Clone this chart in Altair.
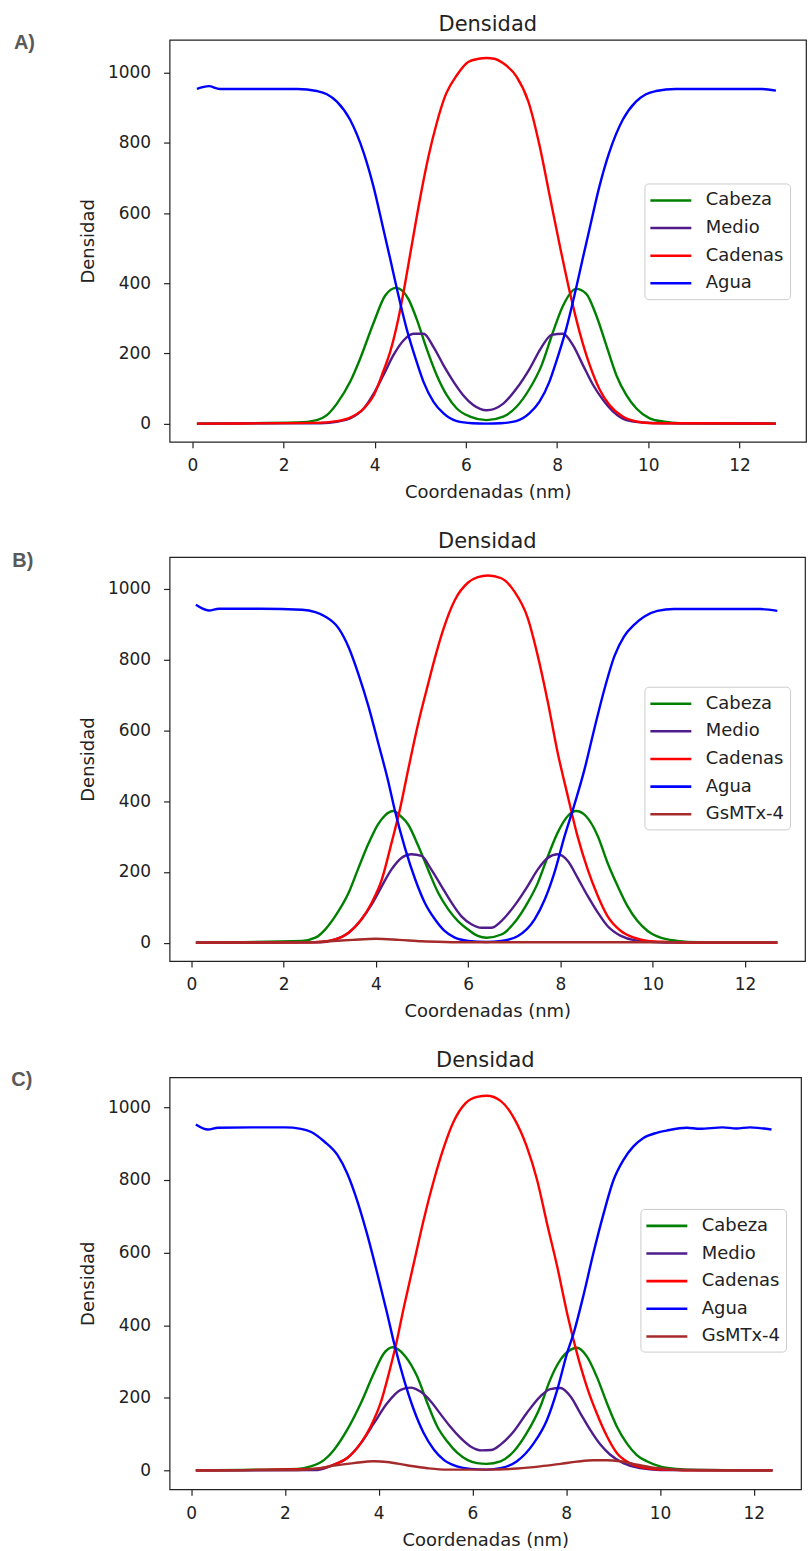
import altair as alt
import pandas as pd

SERIES = ["Cabeza", "Medio", "Cadenas", "Agua", "GsMTx-4"]
COLORS = ["#008000", "#4f1c8c", "#ff0000", "#0000ff", "#a52a2a"]
X_TICKS = [0, 2, 4, 6, 8, 10, 12]
Y_TICKS = [0, 200, 400, 600, 800, 1000]

# ---------------- Panel A ----------------
A_CABEZA_X = [0.1, 2.3, 2.73, 2.95, 3.17, 3.46, 3.68, 3.98, 4.23, 4.47, 4.74, 4.92, 5.14, 5.36, 5.58, 5.8, 6.09, 6.45, 6.82, 7.11,
              7.4, 7.66, 7.91, 8.13, 8.42, 8.64, 8.86, 9.08, 9.3, 9.52, 9.74, 10.03, 10.32, 10.7, 12.8]
A_CABEZA_Y = [0, 3, 10, 24, 57, 119, 185, 289, 365, 387, 355, 298, 213, 138, 81, 43, 20, 10, 20, 48,
              100, 166, 261, 336, 384, 370, 308, 223, 138, 81, 43, 15, 6, 1, 0]
A_MEDIO_X = [0.1, 2.8, 3.2, 3.46, 3.76, 3.98, 4.19, 4.41, 4.63, 4.85, 5.07, 5.29, 5.51, 5.73, 5.94, 6.16,
             6.45, 6.82, 7.11, 7.4, 7.66, 7.88, 8.13, 8.35, 8.57, 8.79, 9.01, 9.23, 9.52, 9.88, 10.3, 12.8]
A_MEDIO_Y = [0, 1, 6, 15, 43, 86, 138, 195, 237, 256, 256, 218, 166, 119, 81, 53,
             38, 57, 100, 157, 218, 253, 256, 223, 166, 110, 67, 34, 10, 3, 1, 0]
A_CADENAS_X = [0.1, 2.7, 3.17, 3.46, 3.76, 3.98, 4.19, 4.34, 4.52, 4.63, 4.81, 4.99, 5.18, 5.36, 5.54, 5.8, 6.05, 6.28, 6.45, 6.62,
               6.82, 7.11, 7.37, 7.62, 7.84, 8.06, 8.28, 8.5, 8.72, 8.93, 9.15, 9.44, 9.74, 10.1, 12.8]
A_CADENAS_Y = [0, 2, 7, 17, 43, 81, 150, 205, 300, 374, 507, 639, 762, 857, 932, 993, 1031, 1040, 1042, 1040,
               1027, 989, 918, 790, 648, 507, 374, 258, 165, 98, 53, 20, 6, 1, 0]
A_AGUA_X = [0.1, 0.36, 0.6, 1.5, 2.3, 2.73, 2.95, 3.17, 3.46, 3.76, 3.97, 4.19, 4.34, 4.52, 4.7, 4.92, 5.07, 5.29, 5.51, 5.8,
            6.14, 6.45, 6.76, 7.1, 7.39, 7.61, 7.83, 7.98, 8.2, 8.38, 8.56, 8.71, 8.93, 9.14, 9.44, 9.73, 9.95, 10.17, 10.6, 12.5, 12.8]
A_AGUA_Y = [954, 962, 954, 954, 954, 948, 939, 918, 866, 771, 677, 554, 469, 365, 270, 176, 119, 62, 29, 7,
            1, 0, 1, 7, 29, 62, 119, 176, 270, 365, 469, 554, 677, 771, 866, 918, 939, 948, 954, 954, 949]

# ---------------- Panel B ----------------
B_CABEZA_X = [0.1, 2.4, 2.69, 2.9, 3.12, 3.41, 3.62, 3.84, 4.05, 4.2, 4.38, 4.55, 4.7, 4.92, 5.13, 5.35, 5.57, 5.78, 6.0, 6.21,
              6.4, 6.72, 7.0, 7.29, 7.51, 7.73, 7.94, 8.16, 8.34, 8.55, 8.81, 9.02, 9.24, 9.45, 9.67, 9.89, 10.17, 10.53, 11.0, 12.7]
B_CABEZA_Y = [0, 5, 14, 37, 75, 141, 210, 280, 335, 360, 372, 356, 334, 273, 207, 141, 94, 61, 37, 19,
              14, 23, 56, 113, 169, 245, 311, 358, 372, 358, 301, 226, 160, 104, 61, 33, 14, 5, 1, 0]
B_MEDIO_X = [0.1, 2.8, 3.12, 3.41, 3.69, 3.91, 4.13, 4.34, 4.56, 4.77, 4.99, 5.2, 5.42, 5.64, 5.85, 6.07, 6.29, 6.5, 6.72, 7.0,
             7.29, 7.51, 7.73, 7.94, 8.16, 8.37, 8.59, 8.81, 9.02, 9.31, 9.6, 10.03, 10.5, 12.7]
B_MEDIO_Y = [0, 1, 9, 28, 66, 108, 160, 207, 240, 250, 245, 207, 160, 113, 75, 52, 42, 42, 61, 104,
             160, 207, 240, 250, 231, 184, 132, 85, 47, 19, 7, 2, 0, 0]
B_CADENAS_X = [0.1, 2.7, 3.12, 3.41, 3.69, 3.91, 4.13, 4.34, 4.52, 4.7, 4.92, 5.13, 5.28, 5.46, 5.71, 6.0, 6.21, 6.43, 6.72, 7.0,
               7.29, 7.51, 7.73, 7.94, 8.16, 8.37, 8.59, 8.81, 9.02, 9.31, 9.6, 9.89, 10.32, 10.8, 12.7]
B_CADENAS_Y = [0, 1, 9, 28, 66, 113, 179, 282, 376, 489, 621, 730, 805, 885, 968, 1018, 1033, 1038, 1030, 993,
               918, 810, 678, 537, 414, 301, 207, 132, 75, 33, 14, 5, 2, 0, 0]
B_AGUA_X = [0.1, 0.38, 0.6, 1.5, 2.4, 2.69, 2.9, 3.19, 3.41, 3.62, 3.84, 4.05, 4.27, 4.41, 4.63, 4.85, 5.06, 5.28, 5.49, 5.71,
            6.0, 6.4, 6.72, 7.08, 7.44, 7.66, 7.87, 8.09, 8.27, 8.52, 8.73, 8.95, 9.17, 9.38, 9.6, 9.82, 10.1, 10.46, 12.33, 12.7]
B_AGUA_Y = [955, 939, 944, 944, 941, 934, 922, 889, 835, 760, 668, 565, 455, 375, 268, 180, 113, 66, 33, 14,
            5, 2, 5, 19, 66, 122, 198, 301, 376, 489, 602, 715, 810, 866, 899, 922, 938, 943, 943, 938]
B_GSMTX_X = [0.1, 2.5, 3.0, 3.5, 4.0, 4.5, 5.0, 5.5, 6.0, 7.0, 12.7]
B_GSMTX_Y = [0, 1, 4, 8, 11, 8, 4, 2, 1, 1, 1]

# ---------------- Panel C ----------------
C_CABEZA_X = [0.1, 2.27, 2.55, 2.84, 3.05, 3.33, 3.62, 3.9, 4.11, 4.3, 4.57, 4.82, 5.04, 5.25, 5.46, 5.68, 5.89, 6.1, 6.3, 6.6,
              6.88, 7.16, 7.45, 7.66, 7.88, 8.09, 8.23, 8.44, 8.65, 8.87, 9.08, 9.29, 9.5, 9.72, 10.0, 10.36, 10.8, 12.4]
C_CABEZA_Y = [0, 4, 11, 29, 57, 112, 185, 268, 322, 339, 314, 259, 185, 121, 80, 48, 29, 20, 18, 25,
              52, 103, 176, 250, 305, 332, 338, 314, 259, 185, 121, 75, 43, 25, 11, 4, 1, 0]
C_MEDIO_X = [0.1, 2.7, 3.05, 3.33, 3.62, 3.9, 4.18, 4.47, 4.68, 4.89, 5.1, 5.32, 5.53, 5.74, 5.96, 6.2, 6.4, 6.6, 6.88, 7.16,
             7.45, 7.66, 7.88, 8.09, 8.3, 8.51, 8.73, 8.94, 9.22, 9.57, 10.0, 12.4]
C_MEDIO_Y = [0, 1, 16, 34, 75, 130, 185, 222, 228, 217, 192, 155, 120, 90, 66, 55, 56, 71, 107, 158,
             204, 224, 227, 204, 158, 112, 71, 43, 20, 6, 1, 0]
C_CADENAS_X = [0.1, 2.62, 3.05, 3.33, 3.62, 3.83, 4.04, 4.22, 4.36, 4.54, 4.75, 4.96, 5.18, 5.36, 5.6, 5.85, 6.1, 6.31, 6.6, 6.88,
               7.16, 7.38, 7.59, 7.81, 8.02, 8.23, 8.44, 8.65, 8.87, 9.08, 9.36, 9.72, 10.14, 10.6, 12.4]
C_CADENAS_Y = [0, 4, 16, 34, 75, 121, 185, 268, 341, 451, 571, 690, 800, 878, 961, 1011, 1029, 1032, 1018, 972,
               892, 800, 681, 561, 433, 323, 231, 158, 94, 48, 20, 6, 2, 0, 0]
C_AGUA_X = [0.1, 0.36, 0.57, 1.3, 2.0, 2.34, 2.55, 2.84, 3.12, 3.33, 3.55, 3.76, 3.97, 4.18, 4.33, 4.54, 4.75, 4.96, 5.18, 5.39,
            5.67, 5.96, 6.31, 6.6, 6.95, 7.31, 7.59, 7.81, 8.02, 8.16, 8.38, 8.58, 8.8, 9.01, 9.22, 9.43, 9.64, 9.93, 10.14, 10.57,
            10.85, 11.34, 11.63, 11.92, 12.13, 12.38]
C_AGUA_Y = [953, 939, 944, 945, 945, 941, 933, 906, 869, 818, 740, 648, 543, 433, 350, 250, 167, 103, 57, 29,
            11, 4, 2, 6, 25, 75, 139, 222, 323, 378, 488, 598, 708, 800, 855, 892, 915, 930, 936, 944,
            941, 945, 942, 945, 943, 939]
C_GSMTX_X = [0.1, 2.27, 2.7, 3.05, 3.47, 3.9, 4.18, 4.6, 5.04, 5.46, 6.31, 6.95, 7.45, 7.88, 8.23, 8.58, 8.87, 9.15, 9.43, 9.79,
             10.14, 10.5, 12.4]
C_GSMTX_Y = [0, 1, 5, 13, 20, 25, 23, 14, 6, 2, 2, 5, 11, 18, 24, 28, 28, 25, 18, 9,
             4, 1, 0]

FONT = "DejaVu Sans"
TXT = "#222222"


def panel(label, series, xdom, ydom, w, h, legx, legy, labx, laby):
    names = [s[0] for s in series]
    cscale = alt.Scale(domain=names, range=COLORS[:len(names)])
    legend = alt.Legend(
        title=None, orient="none", legendX=legx, legendY=legy,
        symbolType="M-2.16,0L2.16,0", symbolSize=361, symbolStrokeWidth=2.6,
        symbolOffset=9.5, labelOffset=24, labelFontSize=18, labelFont=FONT,
        labelColor=TXT, labelLimit=300, fillColor="rgba(255,255,255,0.8)",
        strokeColor="#cccccc", cornerRadius=4, padding=6, rowPadding=7.7,
    )
    xenc = alt.X("x:Q", scale=alt.Scale(domain=xdom, nice=False, zero=False),
                 axis=alt.Axis(values=X_TICKS, labelPadding=10, titlePadding=10, labelFlush=False),
                 title="Coordenadas (nm)")
    yenc = alt.Y("y:Q", scale=alt.Scale(domain=ydom, nice=False, zero=False),
                 axis=alt.Axis(values=Y_TICKS, format="d", labelPadding=13, titlePadding=10),
                 title="Densidad")
    layers = []
    for name, xs, ys in series:
        df = pd.DataFrame({"x": xs, "y": ys, "serie": [name] * len(xs)})
        layers.append(
            alt.Chart(df).mark_line(interpolate="monotone", strokeWidth=2.4).encode(
                x=xenc, y=yenc,
                color=alt.Color("serie:N", scale=cscale, sort=names, legend=legend),
            )
        )
    lab = alt.Chart(pd.DataFrame({"t": [label]})).mark_text(
        font="Liberation Sans", fontSize=20, fontWeight="bold", color="#595959",
        align="left", baseline="middle",
    ).encode(text="t:N", x=alt.value(labx), y=alt.value(laby))
    return alt.layer(*layers, lab).properties(
        width=w, height=h,
        title=alt.Title("Densidad", fontSize=21, font=FONT, fontWeight="normal",
                        color=TXT, offset=-1, frame="group", anchor="middle"),
    )


pA = panel("A)", [("Cabeza", A_CABEZA_X, A_CABEZA_Y), ("Medio", A_MEDIO_X, A_MEDIO_Y),
                  ("Cadenas", A_CADENAS_X, A_CADENAS_Y), ("Agua", A_AGUA_X, A_AGUA_Y)],
           [-0.5, 13.46], [-52, 1094], 638, 403, 476, 144, -156, 3.7)
pB = panel("B)", [("Cabeza", B_CABEZA_X, B_CABEZA_Y), ("Medio", B_MEDIO_X, B_MEDIO_Y),
                  ("Cadenas", B_CADENAS_X, B_CADENAS_Y), ("Agua", B_AGUA_X, B_AGUA_Y),
                  ("GsMTx-4", B_GSMTX_X, B_GSMTX_Y)],
           [-0.47, 13.3], [-52, 1090], 637, 405, 476, 130, -157.7, 4.2)
pC = panel("C)", [("Cabeza", C_CABEZA_X, C_CABEZA_Y), ("Medio", C_MEDIO_X, C_MEDIO_Y),
                  ("Cadenas", C_CADENAS_X, C_CADENAS_Y), ("Agua", C_AGUA_X, C_AGUA_Y),
                  ("GsMTx-4", C_GSMTX_X, C_GSMTX_Y)],
           [-0.46, 13.01], [-52, 1083], 633, 413, 472, 132, -158.7, 3.0)

chart = alt.vconcat(pA, pB, pC, spacing=27.5).resolve_scale(color="independent").properties(
    padding={"left": 10, "top": 11, "right": 4, "bottom": 4},
    background="white",
).configure_view(
    stroke="#222222", strokeWidth=1.2
).configure_axis(
    domain=False, grid=False, tickColor="#222222", tickSize=6, tickWidth=1.2,
    labelFont=FONT, labelFontSize=17, labelColor=TXT,
    titleFont=FONT, titleFontSize=18, titleFontWeight="normal", titleColor=TXT,
)

chart.save("out.html", embed_options={"renderer": "svg", "actions": False})
